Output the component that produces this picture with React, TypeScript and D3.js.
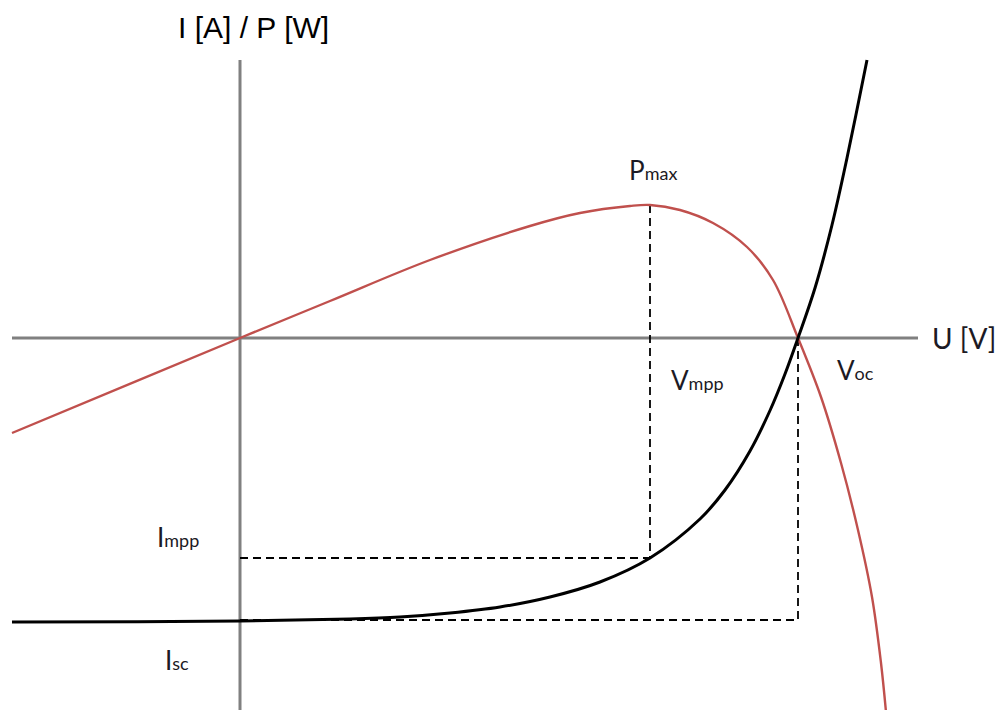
import React from "react";
import * as d3 from "d3";

// Current–voltage characteristic of a PV cell (U in V, I in A, arbitrary scale)
const ivU = [-22.8, 0, 11, 16, 21, 26, 31, 36, 41, 46, 48.5, 51, 53, 54.5, 55.8, 57.5, 59.2, 60.7, 62.7];
const ivI = [-28.4, -28.3, -28.1, -27.9, -27.5, -26.9, -25.9, -24.4, -22.0, -18.1, -15.2, -11.3, -7.25, -3.6, 0, 5.0, 11.3, 18.0, 27.8];

// Power characteristic P(U)
const pvU = [-22.8, 0, 9, 19, 29, 34, 39, 41, 44, 47.3, 50.7, 53.3, 55.8, 58.1, 60.1, 61.8, 63.2, 64.1, 64.6];
const pvP = [-9.5, 0, 3.7, 7.8, 11.2, 12.5, 13.2, 13.3, 12.8, 11.5, 9.1, 5.8, 0, -5.9, -12.5, -19.2, -25.9, -32.5, -37.4];

// Characteristic points
const Vmpp = 41;
const Voc = 55.8;
const Pmax = 13.3;
const Impp = -22.0;
const Isc = -28.2;

// Axis extents
const uExtent = [-22.8, 67.8];
const yExtent = [-37.2, 27.8];

const W = 999;
const H = 710;

export default function App() {
  const x = d3.scaleLinear().domain(uExtent).range([12, 918]);
  const y = d3.scaleLinear().domain([yExtent[0], 27.6]).range([710, 62]);

  const line = d3
    .line<[number, number]>()
    .x((d) => x(d[0]))
    .y((d) => y(d[1]))
    .curve(d3.curveCatmullRom.alpha(0.5));

  const ivPts = ivU.map((u, i) => [u, ivI[i]] as [number, number]);
  const pvPts = pvU.map((u, i) => [u, pvP[i]] as [number, number]);

  const labelFont = "Lato, 'Open Sans', sans-serif";
  const textColor = "#1c1a24";
  const axisColor = "#808080";
  const dash = "8 5";

  return (
    <svg
      width={W}
      height={H}
      style={{ position: "absolute", left: 0, top: 0, background: "#fff" }}
    >
      {/* axes */}
      <line x1={x(uExtent[0])} x2={x(uExtent[1])} y1={y(0)} y2={y(0)} stroke={axisColor} strokeWidth={3} />
      <line x1={x(0)} x2={x(0)} y1={y(yExtent[1])} y2={y(yExtent[0])} stroke={axisColor} strokeWidth={3} />

      {/* guide lines to the maximum power point and open-circuit point */}
      <g stroke="#000" strokeWidth={1.8} strokeDasharray={dash} fill="none">
        <line x1={x(Vmpp)} x2={x(Vmpp)} y1={y(Pmax)} y2={y(Impp)} />
        <line x1={x(0)} x2={x(Vmpp)} y1={y(Impp)} y2={y(Impp)} />
        <line x1={x(Voc)} x2={x(Voc)} y1={y(0)} y2={y(Isc)} />
        <line x1={x(0)} x2={x(Voc)} y1={y(Isc)} y2={y(Isc)} />
      </g>

      {/* curves */}
      <path d={line(pvPts) || ""} fill="none" stroke="#c0504d" strokeWidth={2.4} />
      <path d={line(ivPts) || ""} fill="none" stroke="#000" strokeWidth={3} />

      {/* axis titles */}
      <text x={178} y={38} fontFamily="'Liberation Sans', Arial, sans-serif" fontSize={30} fill="#000">
        I [A] / P [W]
      </text>
      <text x={932} y={349} fontFamily={labelFont} fontSize={28} fill={textColor}>
        U [V]
      </text>

      {/* point labels */}
      <text x={x(Vmpp) - 21} y={180} fontFamily={labelFont} fontSize={26} fill={textColor}>
        P<tspan fontSize={18}>max</tspan>
      </text>
      <text x={x(Vmpp) + 21} y={390} fontFamily={labelFont} fontSize={26} fill={textColor}>
        V<tspan fontSize={18}>mpp</tspan>
      </text>
      <text x={x(Voc) + 39} y={380} fontFamily={labelFont} fontSize={26} fill={textColor}>
        V<tspan fontSize={18}>oc</tspan>
      </text>
      <text x={157} y={547} fontFamily={labelFont} fontSize={26} fill={textColor}>
        I<tspan fontSize={18}>mpp</tspan>
      </text>
      <text x={165} y={670} fontFamily={labelFont} fontSize={26} fill={textColor}>
        I<tspan fontSize={18}>sc</tspan>
      </text>
    </svg>
  );
}
